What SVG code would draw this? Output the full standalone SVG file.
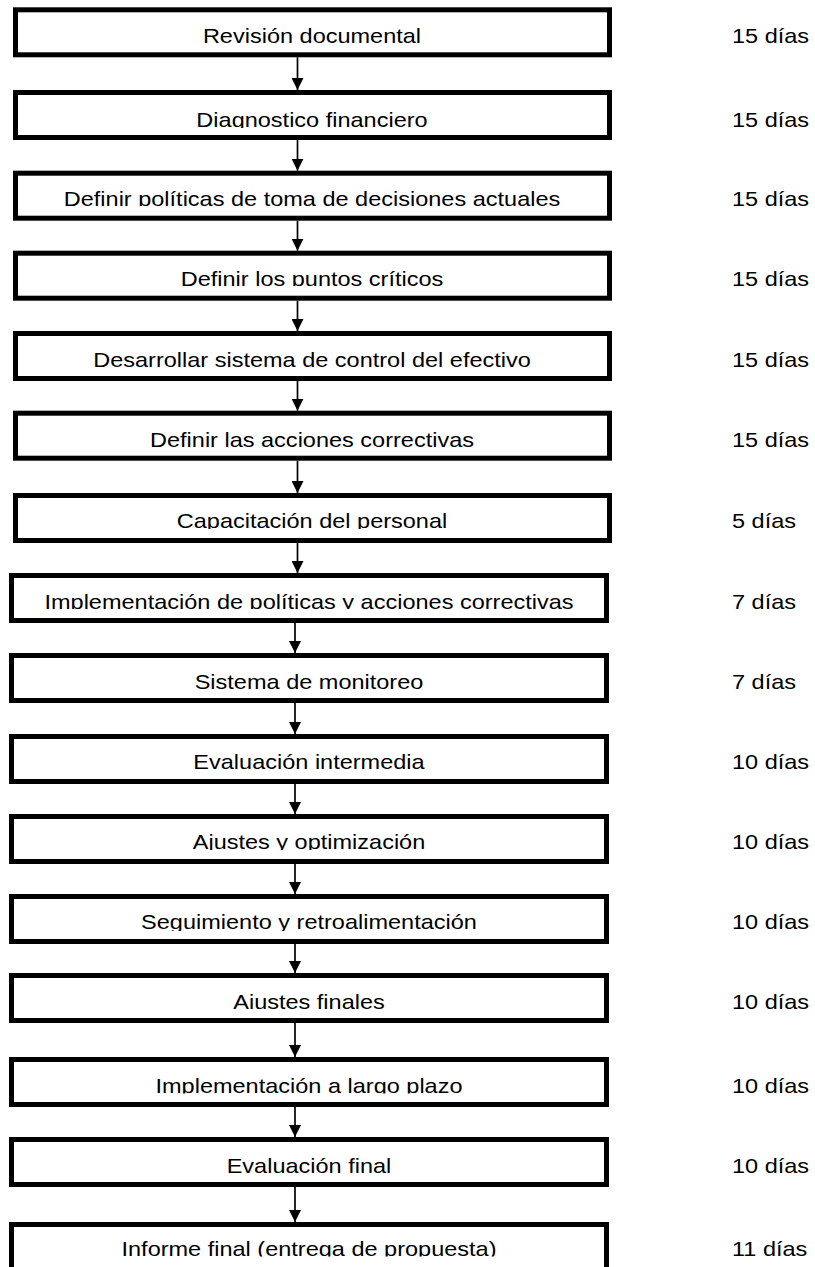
<svg xmlns="http://www.w3.org/2000/svg" width="815" height="1267" viewBox="0 0 815 1267">
<style>
.box{fill:#fff;stroke:#000;stroke-width:5}
.t{font-family:"Liberation Sans",Arial,sans-serif;font-size:21px;fill:#000}
.c{text-anchor:middle}
.conn line{stroke:#000;stroke-width:1.7;marker-end:url(#ah)}
</style>
<defs>
<marker id="ah" markerUnits="userSpaceOnUse" markerWidth="12" markerHeight="12" refX="12" refY="6" orient="auto"><path d="M0,0 L12,6 L0,12 z" fill="#000"/></marker>
<clipPath id="c1"><rect x="0" y="7" width="815" height="37"/></clipPath>
<clipPath id="c2"><rect x="0" y="90" width="815" height="38"/></clipPath>
<clipPath id="c3"><rect x="0" y="170" width="815" height="36"/></clipPath>
<clipPath id="c4"><rect x="0" y="250" width="815" height="36"/></clipPath>
<clipPath id="c5"><rect x="0" y="331" width="815" height="36.5"/></clipPath>
<clipPath id="c6"><rect x="0" y="410" width="815" height="37.5"/></clipPath>
<clipPath id="c7"><rect x="0" y="493" width="815" height="36"/></clipPath>
<clipPath id="c8"><rect x="0" y="573" width="815" height="36"/></clipPath>
<clipPath id="c9"><rect x="0" y="653" width="815" height="36"/></clipPath>
<clipPath id="c10"><rect x="0" y="734" width="815" height="36"/></clipPath>
<clipPath id="c11"><rect x="0" y="814" width="815" height="36"/></clipPath>
<clipPath id="c12"><rect x="0" y="894" width="815" height="37"/></clipPath>
<clipPath id="c13"><rect x="0" y="973" width="815" height="36"/></clipPath>
<clipPath id="c14"><rect x="0" y="1057" width="815" height="36.5"/></clipPath>
<clipPath id="c15"><rect x="0" y="1137" width="815" height="36.5"/></clipPath>
<clipPath id="c16"><rect x="0" y="1222" width="815" height="34.5"/></clipPath>
</defs>
<rect x="0" y="0" width="815" height="1267" fill="#fff"/>

<g id="connectors" class="conn">
<line x1="297.5" y1="57.3" x2="297.5" y2="90"/>
<line x1="297.5" y1="140" x2="297.5" y2="170.7"/>
<line x1="297.5" y1="220.7" x2="297.5" y2="250.7"/>
<line x1="297.5" y1="300.7" x2="297.5" y2="331"/>
<line x1="297.5" y1="381" x2="297.5" y2="410.7"/>
<line x1="297.5" y1="460.7" x2="297.5" y2="493"/>
<line x1="297.5" y1="543" x2="297.5" y2="573"/>
<line x1="295" y1="623" x2="295" y2="653"/>
<line x1="295" y1="703" x2="295" y2="734"/>
<line x1="295" y1="784" x2="295" y2="814"/>
<line x1="295" y1="864" x2="295" y2="894"/>
<line x1="295" y1="944" x2="295" y2="973"/>
<line x1="295" y1="1023" x2="295" y2="1057"/>
<line x1="295" y1="1107" x2="295" y2="1137"/>
<line x1="295" y1="1187" x2="295" y2="1222"/>
</g>

<g id="n1"><rect class="box" x="15.5" y="9.8" width="594" height="45"/><g clip-path="url(#c1)"><text class="t c" transform="translate(312 43) scale(1.12 1)">Revisión documental</text><text class="t" transform="translate(732 43) scale(1.12 1)">15 días</text></g></g>
<g id="n2"><rect class="box" x="15.5" y="92.5" width="594" height="45"/><g clip-path="url(#c2)"><text class="t c" transform="translate(312 126.5) scale(1.12 1)">Diagnostico financiero</text><text class="t" transform="translate(732 126.5) scale(1.12 1)">15 días</text></g></g>
<g id="n3"><rect class="box" x="15.5" y="173.2" width="594" height="45"/><g clip-path="url(#c3)"><text class="t c" transform="translate(312 205.5) scale(1.12 1)">Definir políticas de toma de decisiones actuales</text><text class="t" transform="translate(732 205.5) scale(1.12 1)">15 días</text></g></g>
<g id="n4"><rect class="box" x="15.5" y="253.2" width="594" height="45"/><g clip-path="url(#c4)"><text class="t c" transform="translate(312 285.5) scale(1.12 1)">Definir los puntos críticos</text><text class="t" transform="translate(732 285.5) scale(1.12 1)">15 días</text></g></g>
<g id="n5"><rect class="box" x="15.5" y="333.5" width="594" height="45"/><g clip-path="url(#c5)"><text class="t c" transform="translate(312 366.5) scale(1.12 1)">Desarrollar sistema de control del efectivo</text><text class="t" transform="translate(732 366.5) scale(1.12 1)">15 días</text></g></g>
<g id="n6"><rect class="box" x="15.5" y="413.2" width="594" height="45"/><g clip-path="url(#c6)"><text class="t c" transform="translate(312 446.5) scale(1.12 1)">Definir las acciones correctivas</text><text class="t" transform="translate(732 446.5) scale(1.12 1)">15 días</text></g></g>
<g id="n7"><rect class="box" x="15.5" y="495.5" width="594" height="45"/><g clip-path="url(#c7)"><text class="t c" transform="translate(312 528) scale(1.12 1)">Capacitación del personal</text><text class="t" transform="translate(732 528) scale(1.12 1)">5 días</text></g></g>
<g id="n8"><rect class="box" x="11.5" y="575.5" width="595" height="45"/><g clip-path="url(#c8)"><text class="t c" transform="translate(309 608.5) scale(1.12 1)">Implementación de políticas y acciones correctivas</text><text class="t" transform="translate(732 608.5) scale(1.12 1)">7 días</text></g></g>
<g id="n9"><rect class="box" x="11.5" y="655.5" width="595" height="45"/><g clip-path="url(#c9)"><text class="t c" transform="translate(309 688.5) scale(1.12 1)">Sistema de monitoreo</text><text class="t" transform="translate(732 688.5) scale(1.12 1)">7 días</text></g></g>
<g id="n10"><rect class="box" x="11.5" y="736.5" width="595" height="45"/><g clip-path="url(#c10)"><text class="t c" transform="translate(309 769) scale(1.12 1)">Evaluación intermedia</text><text class="t" transform="translate(732 769) scale(1.12 1)">10 días</text></g></g>
<g id="n11"><rect class="box" x="11.5" y="816.5" width="595" height="45"/><g clip-path="url(#c11)"><text class="t c" transform="translate(309 849) scale(1.12 1)">Ajustes y optimización</text><text class="t" transform="translate(732 849) scale(1.12 1)">10 días</text></g></g>
<g id="n12"><rect class="box" x="11.5" y="896.5" width="595" height="45"/><g clip-path="url(#c12)"><text class="t c" transform="translate(309 929) scale(1.12 1)">Seguimiento y retroalimentación</text><text class="t" transform="translate(732 929) scale(1.12 1)">10 días</text></g></g>
<g id="n13"><rect class="box" x="11.5" y="975.5" width="595" height="45"/><g clip-path="url(#c13)"><text class="t c" transform="translate(309 1008.5) scale(1.12 1)">Ajustes finales</text><text class="t" transform="translate(732 1008.5) scale(1.12 1)">10 días</text></g></g>
<g id="n14"><rect class="box" x="11.5" y="1059.5" width="595" height="45"/><g clip-path="url(#c14)"><text class="t c" transform="translate(309 1092.5) scale(1.12 1)">Implementación a largo plazo</text><text class="t" transform="translate(732 1092.5) scale(1.12 1)">10 días</text></g></g>
<g id="n15"><rect class="box" x="11.5" y="1139.5" width="595" height="45"/><g clip-path="url(#c15)"><text class="t c" transform="translate(309 1172.5) scale(1.12 1)">Evaluación final</text><text class="t" transform="translate(732 1172.5) scale(1.12 1)">10 días</text></g></g>
<g id="n16"><rect class="box" x="11.5" y="1224.5" width="595" height="45"/><g clip-path="url(#c16)"><text class="t c" transform="translate(309 1255.5) scale(1.12 1)">Informe final (entrega de propuesta)</text><text class="t" transform="translate(732 1255.5) scale(1.12 1)">11 días</text></g></g>
</svg>
